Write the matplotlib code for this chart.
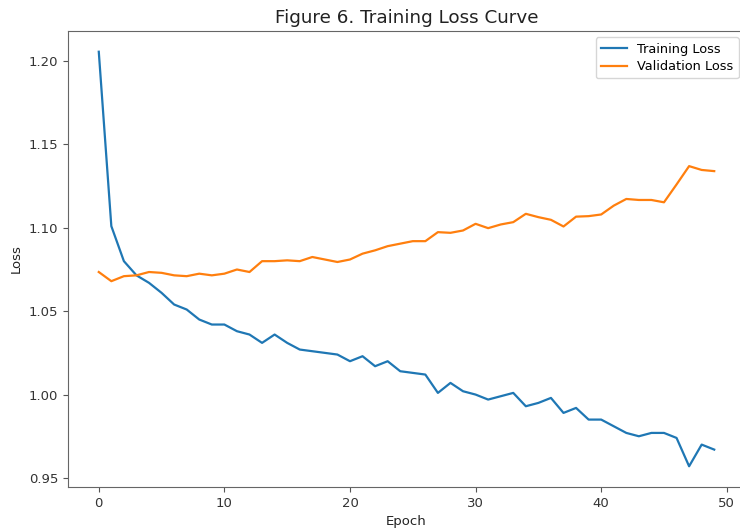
import matplotlib
matplotlib.use("Agg")
import matplotlib.pyplot as plt

epochs = list(range(50))
train_loss = [1.2056, 1.101, 1.080, 1.0715, 1.067, 1.061, 1.054, 1.051, 1.045, 1.042,
              1.042, 1.038, 1.036, 1.031, 1.036, 1.031, 1.027, 1.026, 1.025, 1.024,
              1.020, 1.023, 1.017, 1.020, 1.014, 1.013, 1.012, 1.001, 1.007, 1.002,
              1.000, 0.997, 0.999, 1.001, 0.993, 0.995, 0.998, 0.989, 0.992, 0.985,
              0.985, 0.981, 0.977, 0.975, 0.977, 0.977, 0.974, 0.957, 0.970, 0.967]
val_loss = [1.0735, 1.068, 1.071, 1.0715, 1.0735, 1.073, 1.0715, 1.071, 1.0725, 1.0715,
            1.0725, 1.075, 1.0735, 1.080, 1.080, 1.0805, 1.080, 1.0825, 1.081, 1.0795,
            1.081, 1.0845, 1.0865, 1.089, 1.0905, 1.092, 1.092, 1.0974, 1.097, 1.0984,
            1.1024, 1.0998, 1.102, 1.1034, 1.1084, 1.1064, 1.1048, 1.1008, 1.1067, 1.107,
            1.108, 1.1133, 1.1173, 1.1167, 1.1167, 1.1153, 1.126, 1.137, 1.1347, 1.134]

title = "Figure 6. Training Loss Curve"
xlabel = "Epoch"
ylabel = "Loss"
labels = ["Training Loss", "Validation Loss"]

fig = plt.figure(figsize=(7.40, 5.29), dpi=100)
W, H = 740, 529
left, right, top, bottom = 68, 745, 31, 487
ax = fig.add_axes([left / W, 1 - bottom / H, (right - left) / W, (bottom - top) / H])

ax.plot(epochs, train_loss, color="#1f77b4", lw=1.6, label=labels[0])
ax.plot(epochs, val_loss, color="#ff7f0e", lw=1.6, label=labels[1])

ax.set_title(title, fontsize=13.2, color="#222222")
ax.set_xlabel(xlabel, fontsize=9.5, color="#222222")
ax.set_ylabel(ylabel, fontsize=9.5, color="#222222")
ax.tick_params(labelsize=9.5, labelcolor="#333333", color="#555555")
for s in ax.spines.values():
    s.set_color("#666666")
ax.spines["right"].set_visible(False)
ax.legend(fontsize=9.3, loc="upper right", labelspacing=0.35)

fig.savefig("out.png", dpi=100)
